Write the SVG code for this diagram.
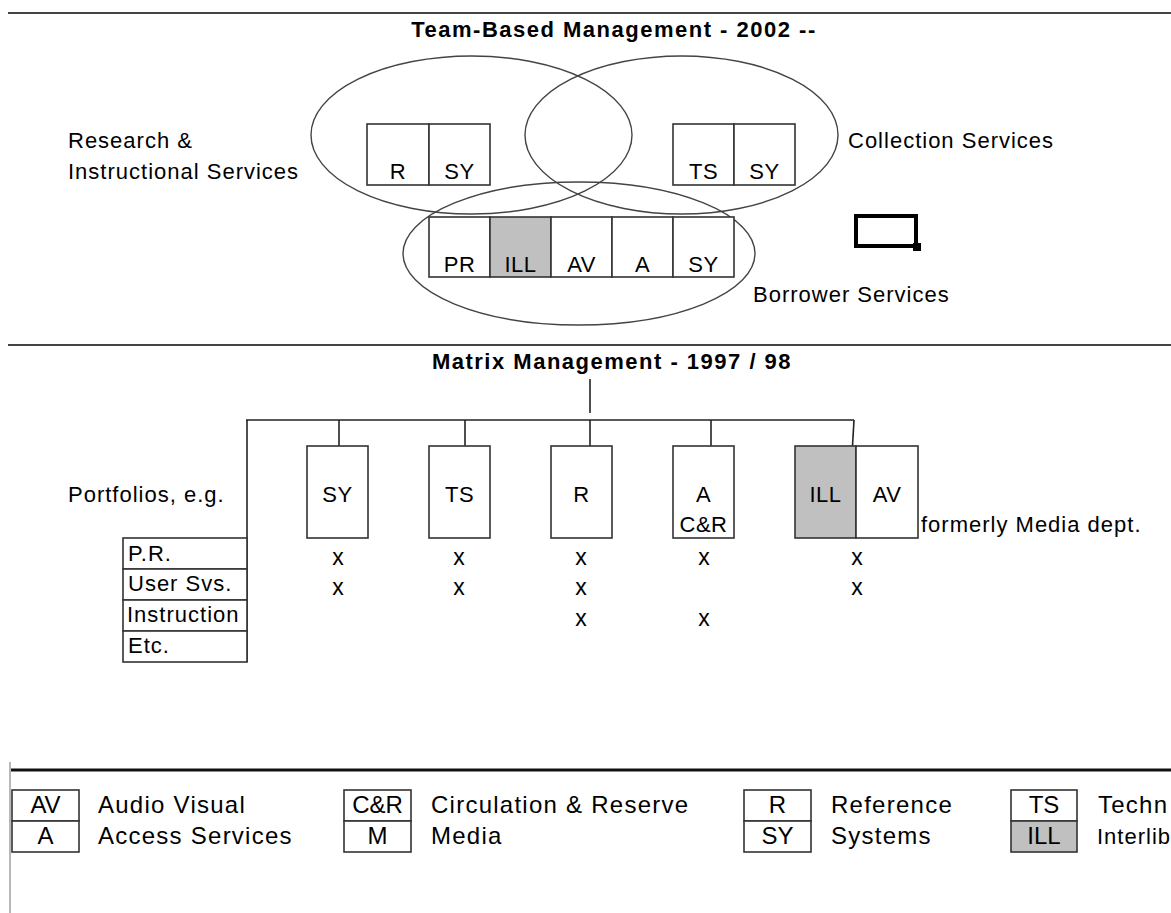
<svg xmlns="http://www.w3.org/2000/svg" width="1171" height="913" viewBox="0 0 1171 913">
<style>
text{font-family:"Liberation Sans",Arial,sans-serif;font-size:22px;fill:#000;letter-spacing:1px}
.t{font-weight:bold;letter-spacing:1.5px;text-anchor:middle}
.c{text-anchor:middle;letter-spacing:0.5px}
.x{text-anchor:middle;font-size:23px;letter-spacing:0}
.lg{font-size:24px;letter-spacing:1.25px}
.lc{font-size:24px;letter-spacing:0;text-anchor:middle}
.box{fill:#fff;stroke:#333;stroke-width:1.6}
.gray{fill:#c0c0c0;stroke:#333;stroke-width:1.6}
.ln{stroke:#222;stroke-width:1.6;fill:none}
.sep{stroke:#444;stroke-width:2}
.ell{fill:none;stroke:#444;stroke-width:1.4}
</style>
<rect width="1171" height="913" fill="#fff"/>
<g id="separators">
<line class="sep" x1="8" y1="13" x2="1171" y2="13"/>
<line class="sep" x1="8" y1="345" x2="1171" y2="345"/>
<line x1="10" y1="762" x2="10" y2="913" stroke="#b8b8b8" stroke-width="2"/>
<line x1="11" y1="770" x2="1171" y2="770" stroke="#111" stroke-width="3"/>
</g>
<g id="team-title"><text class="t" x="614" y="37">Team-Based Management - 2002 --</text></g>
<g id="ellipses">
<ellipse class="ell" cx="471.5" cy="135" rx="160.5" ry="79"/>
<ellipse class="ell" cx="681.5" cy="135" rx="156.5" ry="79"/>
<ellipse class="ell" cx="579" cy="253.5" rx="176" ry="71.5"/>
</g>
<g id="research-label"><text x="68" y="148" letter-spacing="1.4">Research &amp;</text><text x="68" y="179">Instructional Services</text></g>
<g id="collection-label"><text x="848" y="148">Collection Services</text></g>
<g id="borrower-label"><text x="753" y="302">Borrower Services</text></g>
<g id="r-sy-group">
<rect class="box" x="367" y="124" width="62" height="61"/>
<rect class="box" x="429" y="124" width="61" height="61"/>
<text class="c" x="398" y="179">R</text><text class="c" x="459.5" y="179">SY</text>
</g>
<g id="ts-sy-group">
<rect class="box" x="673" y="124" width="61" height="61"/>
<rect class="box" x="734" y="124" width="61" height="61"/>
<text class="c" x="703.5" y="179">TS</text><text class="c" x="764.5" y="179">SY</text>
</g>
<g id="borrower-group">
<rect class="box" x="429" y="217" width="61" height="60"/>
<rect class="gray" x="490" y="217" width="61" height="60"/>
<rect class="box" x="551" y="217" width="61" height="60"/>
<rect class="box" x="612" y="217" width="61" height="60"/>
<rect class="box" x="673" y="217" width="61" height="60"/>
<text class="c" x="459.5" y="272">PR</text><text class="c" x="520.5" y="272">ILL</text><text class="c" x="581.5" y="272">AV</text><text class="c" x="642.5" y="272">A</text><text class="c" x="703.5" y="272">SY</text>
</g>
<g id="empty-box">
<rect x="856" y="216" width="60" height="30" fill="none" stroke="#000" stroke-width="4"/>
<rect x="913" y="243" width="8" height="8" fill="#000"/>
</g>
<g id="matrix-title"><text class="t" x="612" y="369">Matrix Management - 1997 / 98</text></g>
<g id="connectors">
<line class="ln" x1="590" y1="379" x2="590" y2="413"/>
<line class="ln" x1="246" y1="420" x2="854" y2="420"/>
<line class="ln" x1="247" y1="420" x2="247" y2="662"/>
<line class="ln" x1="339" y1="420" x2="339" y2="446"/>
<line class="ln" x1="465" y1="420" x2="465" y2="446"/>
<line class="ln" x1="590" y1="420" x2="590" y2="446"/>
<line class="ln" x1="711" y1="420" x2="711" y2="446"/>
<line class="ln" x1="854" y1="420" x2="852.5" y2="446"/>
</g>
<g id="portfolios-label"><text x="68" y="502">Portfolios, e.g.</text></g>
<g id="sy-box"><rect class="box" x="307" y="446" width="61" height="92"/><text class="c" x="337.5" y="502">SY</text></g>
<g id="ts-box"><rect class="box" x="429" y="446" width="61" height="92"/><text class="c" x="459.5" y="502">TS</text></g>
<g id="r-box"><rect class="box" x="551" y="446" width="61" height="92"/><text class="c" x="581.5" y="502">R</text></g>
<g id="a-box"><rect class="box" x="673" y="446" width="61" height="92"/><text class="c" x="703.5" y="502">A</text><text class="c" x="703.5" y="532">C&amp;R</text></g>
<g id="ill-av-box">
<rect class="gray" x="795" y="446" width="61" height="92"/>
<rect class="box" x="856" y="446" width="62" height="92"/>
<text class="c" x="825.5" y="502">ILL</text><text class="c" x="887" y="502">AV</text>
</g>
<g id="media-label"><text x="921" y="532" letter-spacing="0.6">formerly Media dept.</text></g>
<g id="portfolio-table">
<rect class="box" x="123" y="538" width="124" height="31"/>
<rect class="box" x="123" y="569" width="124" height="31"/>
<rect class="box" x="123" y="600" width="124" height="31"/>
<rect class="box" x="123" y="631" width="124" height="31"/>
<text x="128" y="561" letter-spacing="0.3">P.R.</text>
<text x="128" y="591" letter-spacing="0.3">User Svs.</text>
<text x="127" y="622" letter-spacing="0">Instruction</text>
<text x="128" y="653" letter-spacing="0.3">Etc.</text>
</g>
<g id="marks">
<text class="x" x="338" y="565">x</text><text class="x" x="338" y="595">x</text>
<text class="x" x="459" y="565">x</text><text class="x" x="459" y="595">x</text>
<text class="x" x="581" y="565">x</text><text class="x" x="581" y="595">x</text><text class="x" x="581" y="626">x</text>
<text class="x" x="704" y="565">x</text><text class="x" x="704" y="626">x</text>
<text class="x" x="857" y="565">x</text><text class="x" x="857" y="595">x</text>
</g>
<g id="legend-av-a">
<rect class="box" x="12" y="790" width="67" height="31"/><rect class="box" x="12" y="821" width="67" height="31"/>
<text class="lc" x="45.5" y="813">AV</text><text class="lc" x="45.5" y="844">A</text>
<text class="lg" x="98" y="813">Audio Visual</text><text class="lg" x="98" y="844">Access Services</text>
</g>
<g id="legend-cr-m">
<rect class="box" x="344" y="790" width="67" height="31"/><rect class="box" x="344" y="821" width="67" height="31"/>
<text class="lc" x="377.5" y="813">C&amp;R</text><text class="lc" x="377.5" y="844">M</text>
<text class="lg" x="431" y="813">Circulation &amp; Reserve</text><text class="lg" x="431" y="844">Media</text>
</g>
<g id="legend-r-sy">
<rect class="box" x="744" y="790" width="67" height="31"/><rect class="box" x="744" y="821" width="67" height="31"/>
<text class="lc" x="777.5" y="813">R</text><text class="lc" x="777.5" y="844">SY</text>
<text class="lg" x="831" y="813">Reference</text><text class="lg" x="831" y="844">Systems</text>
</g>
<g id="legend-ts-ill">
<rect class="box" x="1011" y="790" width="66" height="31"/><rect class="gray" x="1011" y="821" width="66" height="31"/>
<text class="lc" x="1044" y="813">TS</text><text class="lc" x="1044" y="844">ILL</text>
<text class="lg" x="1098" y="813">Techn</text><text x="1097" y="844" font-size="23.5" letter-spacing="0">Interlib</text>
</g>
</svg>
